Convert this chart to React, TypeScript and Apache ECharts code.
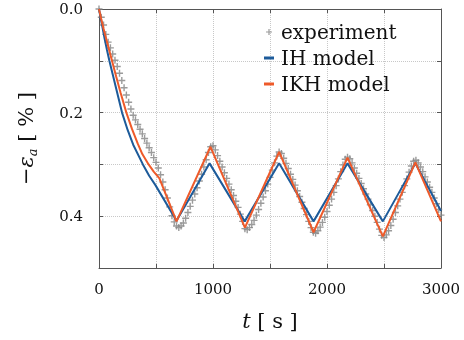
import React, { useEffect, useRef } from 'react';
import * as echarts from 'echarts';

// experiment (sampled every 20 s)
const expTime = [
  0, 20, 40, 60, 80, 100, 120, 140, 160, 180, 200, 220, 240, 260, 280, 300, 320, 340, 360, 380,
  400, 420, 440, 460, 480, 500, 520, 540, 560, 580, 600, 620, 640, 660, 680,
  700, 720, 740, 760, 780, 800, 820, 840, 860, 880, 900, 920, 940, 960, 980,
  1000, 1020, 1040, 1060, 1080, 1100, 1120, 1140, 1160, 1180, 1200, 1220, 1240, 1260, 1280,
  1300, 1320, 1340, 1360, 1380, 1400, 1420, 1440, 1460, 1480, 1500, 1520, 1540, 1560, 1580,
  1600, 1620, 1640, 1660, 1680, 1700, 1720, 1740, 1760, 1780, 1800, 1820, 1840, 1860, 1880,
  1900, 1920, 1940, 1960, 1980, 2000, 2020, 2040, 2060, 2080, 2100, 2120, 2140, 2160, 2180,
  2200, 2220, 2240, 2260, 2280, 2300, 2320, 2340, 2360, 2380, 2400, 2420, 2440, 2460, 2480,
  2500, 2520, 2540, 2560, 2580, 2600, 2620, 2640, 2660, 2680, 2700, 2720, 2740, 2760, 2780,
  2800, 2820, 2840, 2860, 2880, 2900, 2920, 2940, 2960, 2980, 3000,
];
const expStrain = [
  0.0, 0.016, 0.031, 0.049, 0.064, 0.075, 0.087, 0.099, 0.111, 0.124, 0.138, 0.152, 0.166, 0.18, 0.193, 0.205, 0.214, 0.223, 0.232, 0.241,
  0.25, 0.259, 0.268, 0.277, 0.287, 0.296, 0.307, 0.32, 0.334, 0.349, 0.365, 0.382, 0.399, 0.411, 0.419,
  0.422, 0.419, 0.413, 0.404, 0.393, 0.381, 0.369, 0.357, 0.345, 0.332, 0.319, 0.305, 0.291, 0.277, 0.266,
  0.264, 0.272, 0.283, 0.294, 0.305, 0.316, 0.327, 0.338, 0.349, 0.36, 0.371, 0.383, 0.396, 0.41, 0.424,
  0.426, 0.422, 0.416, 0.408, 0.398, 0.387, 0.375, 0.363, 0.351, 0.338, 0.325, 0.311, 0.297, 0.284, 0.276,
  0.279, 0.288, 0.298, 0.308, 0.319, 0.329, 0.34, 0.351, 0.362, 0.373, 0.385, 0.397, 0.41, 0.422, 0.431,
  0.433, 0.428, 0.421, 0.412, 0.402, 0.391, 0.379, 0.367, 0.354, 0.341, 0.328, 0.314, 0.301, 0.29, 0.286,
  0.289, 0.297, 0.307, 0.317, 0.327, 0.337, 0.347, 0.357, 0.367, 0.378, 0.389, 0.4, 0.412, 0.425, 0.437,
  0.441, 0.436, 0.428, 0.418, 0.406, 0.393, 0.38, 0.367, 0.354, 0.341, 0.328, 0.315, 0.303, 0.294, 0.292,
  0.297, 0.305, 0.314, 0.324, 0.334, 0.344, 0.354, 0.365, 0.376, 0.387, 0.398,
];

// IH model
const ihTime = [0, 15, 30, 50, 70, 91, 120, 150, 202, 252, 300, 385, 440, 495, 680, 970, 1278, 1580, 1882, 2180, 2490, 2775, 3000];
const ihStrain = [0, 0.018, 0.035, 0.058, 0.079, 0.1, 0.126, 0.153, 0.2, 0.234, 0.262, 0.3, 0.322, 0.34, 0.409, 0.298, 0.41, 0.298, 0.41, 0.298, 0.41, 0.298, 0.39];

// IKH model
const ikhTime = [0, 20, 40, 60, 90, 114, 150, 190, 240, 290, 340, 380, 435, 480, 530, 680, 978, 1280, 1580, 1882, 2180, 2490, 2775, 3000];
const ikhStrain = [0, 0.02, 0.038, 0.055, 0.08, 0.1, 0.13, 0.162, 0.2, 0.232, 0.26, 0.28, 0.3, 0.314, 0.327, 0.41, 0.266, 0.422, 0.276, 0.431, 0.287, 0.439, 0.296, 0.41];

const xTicks = [0, 1000, 2000, 3000];
const yTicks = [0.0, 0.2, 0.4];

const BLUE = '#1d5b9a';
const ORANGE = '#ee5a2a';
const GRAY = '#8a8a8a';
const FONT = 'DejaVu Serif';

const PLUS = 'path://M2,0h1v2h2v1h-2v2h-1v-2h-2v-1h2z';
const DASH = 'path://M0,0h10v3h-10z';

function pairs(t: number[], v: number[]) {
  return t.map((x, i) => [x, v[i]]);
}

export default function App() {
  const ref = useRef<HTMLDivElement>(null);
  useEffect(() => {
    const chart = echarts.init(ref.current!, null, { renderer: 'svg' });
    const frame = { show: true, onZero: false, lineStyle: { color: '#555', width: 1 } };
    const tick = { show: true, inside: true, length: 4, lineStyle: { color: '#555' } };
    const split = { show: true, lineStyle: { color: '#c8c8c8', type: 'dotted', width: 1 } };
    chart.setOption({
      animation: false,
      grid: { left: 99, right: 23, top: 9, bottom: 72 },
      legend: {
        orient: 'vertical',
        left: 259,
        top: 17,
        itemWidth: 10,
        itemHeight: 6,
        itemGap: 6,
        textStyle: { fontFamily: FONT, fontSize: 20, color: '#111', lineHeight: 20, padding: [0, 0, 0, 2] },
        data: [
          { name: 'experiment', icon: PLUS, itemStyle: { color: GRAY } },
          { name: 'IH model', icon: DASH },
          { name: 'IKH model', icon: DASH },
        ],
      },
      xAxis: [
        {
          type: 'value', min: 0, max: 3000, interval: 500, position: 'bottom',
          axisLine: frame, axisTick: tick, splitLine: split,
          axisLabel: {
            fontFamily: FONT, fontSize: 15, color: '#111', margin: 13,
            formatter: (v: number) => (xTicks.includes(v) ? String(v) : ''),
          },
          name: '{i|t}{r| [ s ]}',
          nameLocation: 'middle',
          nameGap: 42,
          nameTextStyle: {
            rich: {
              i: { fontFamily: FONT, fontSize: 21, fontStyle: 'italic', color: '#111' },
              r: { fontFamily: FONT, fontSize: 21, color: '#111' },
            },
          },
        },
        {
          type: 'value', min: 0, max: 3000, interval: 500, position: 'top',
          axisLine: frame, axisTick: tick, splitLine: { show: false }, axisLabel: { show: false },
        },
      ],
      yAxis: [
        {
          type: 'value', min: 0, max: 0.5, interval: 0.1, inverse: true, position: 'left',
          axisLine: frame, axisTick: tick, splitLine: split,
          axisLabel: {
            fontFamily: FONT, fontSize: 15, color: '#111', margin: 16,
            formatter: (v: number) => {
              const hit = yTicks.some((y) => Math.abs(y - v) < 1e-6);
              return hit ? v.toFixed(1) : '';
            },
          },
          name: '{n|−}{e|ε}{s|a}{n| [ % ]}',
          nameLocation: 'middle',
          nameRotate: 90,
          nameGap: 60,
          nameTextStyle: {
            rich: {
              n: { fontFamily: FONT, fontSize: 21, color: '#111', lineHeight: 26 },
              e: { fontFamily: FONT, fontSize: 21, fontStyle: 'italic', color: '#111', lineHeight: 26 },
              s: { fontFamily: FONT, fontSize: 13, fontStyle: 'italic', color: '#111', verticalAlign: 'bottom', lineHeight: 26 },
            },
          },
        },
        {
          type: 'value', min: 0, max: 0.5, interval: 0.1, inverse: true, position: 'right',
          axisLine: frame, axisTick: tick, splitLine: { show: false }, axisLabel: { show: false },
        },
      ],
      series: [
        {
          name: 'experiment',
          type: 'scatter',
          symbol: PLUS,
          symbolSize: 7,
          itemStyle: { color: GRAY, opacity: 0.85 },
          data: pairs(expTime, expStrain),
          z: 1,
        },
        {
          name: 'IH model',
          type: 'line',
          showSymbol: false,
          symbol: 'none',
          lineStyle: { color: BLUE, width: 2 },
          itemStyle: { color: BLUE },
          data: pairs(ihTime, ihStrain),
          z: 2,
        },
        {
          name: 'IKH model',
          type: 'line',
          showSymbol: false,
          symbol: 'none',
          lineStyle: { color: ORANGE, width: 2 },
          itemStyle: { color: ORANGE },
          data: pairs(ikhTime, ikhStrain),
          z: 3,
        },
      ],
    });
    return () => chart.dispose();
  }, []);
  return <div ref={ref} style={{ position: 'fixed', left: 0, top: 0, width: 464, height: 340 }} />;
}
